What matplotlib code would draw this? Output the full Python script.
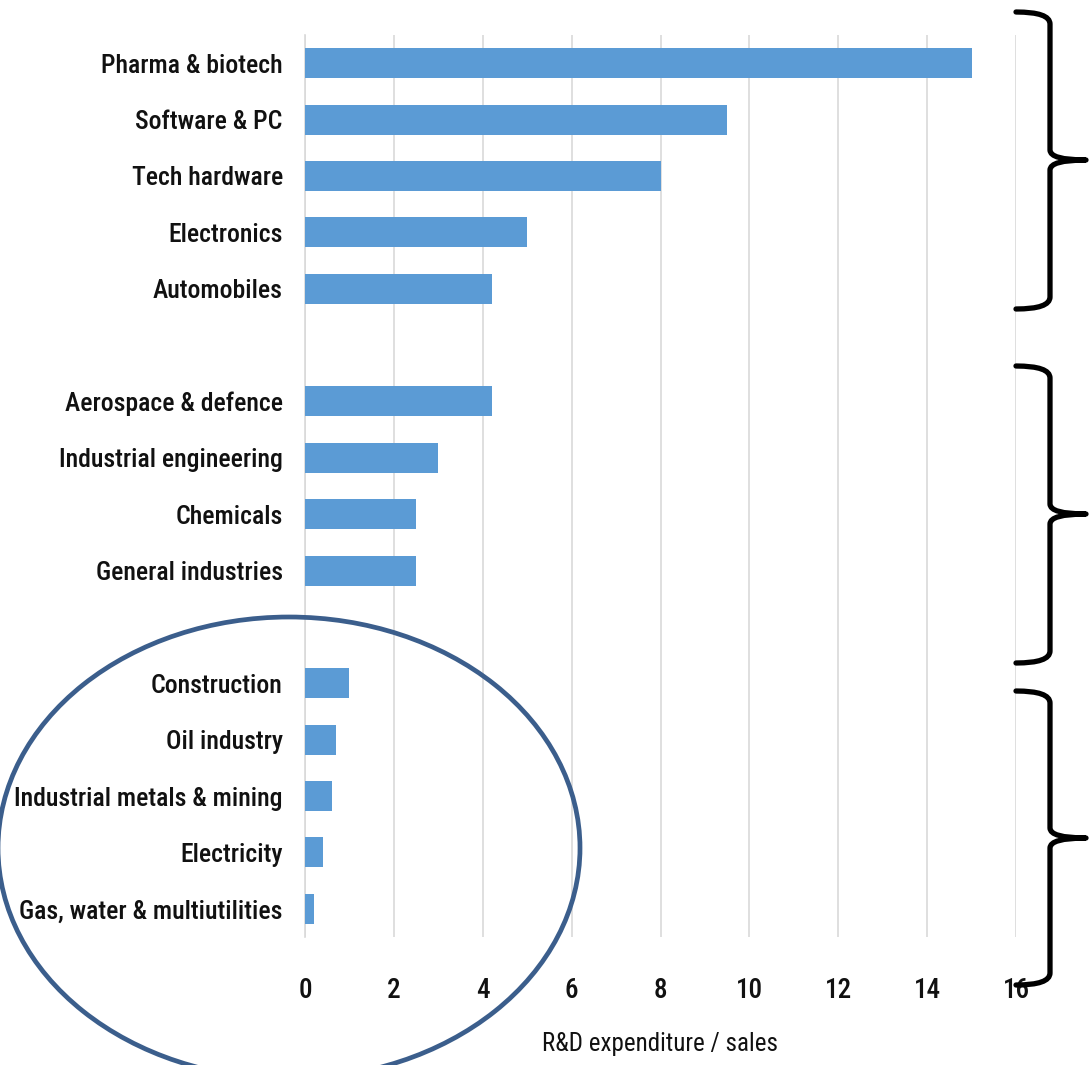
import matplotlib
matplotlib.use("Agg")
import matplotlib.pyplot as plt
from matplotlib.patches import Ellipse, PathPatch
from matplotlib.path import Path

# Sector R&D intensity, grouped (empty strings are spacer rows between groups)
sectors = [
    "Pharma & biotech", "Software & PC", "Tech hardware", "Electronics", "Automobiles",
    "",
    "Aerospace & defence", "Industrial engineering", "Chemicals", "General industries",
    "",
    "Construction", "Oil industry", "Industrial metals & mining", "Electricity",
    "Gas, water & multiutilities",
]
rd_to_sales = [
    15.0, 9.5, 8.0, 5.0, 4.2,
    None,
    4.2, 3.0, 2.5, 2.5,
    None,
    1.0, 0.7, 0.6, 0.4, 0.2,
]
x_ticks = [0, 2, 4, 6, 8, 10, 12, 14, 16]
x_label = "R&D expenditure / sales"

FONT = ["Roboto Condensed", "Liberation Sans Narrow", "DejaVu Sans"]
plt.rcParams["font.family"] = FONT
plt.rcParams["font.stretch"] = "condensed"
plt.rcParams["font.weight"] = "medium"

W, H = 1089, 1065
fig = plt.figure(figsize=(W / 100, H / 100), dpi=100)
ax = fig.add_axes([305 / W, 1 - 937 / H, 711 / W, 902 / H])

rows = list(range(len(sectors)))
for r, v in zip(rows, rd_to_sales):
    if v is not None:
        ax.barh(r, v, height=0.53, color="#5B9BD5", zorder=3)

ax.set_xlim(0, 16)
ax.set_ylim(len(sectors) - 0.5, -0.5)
ax.set_xticks(x_ticks)
ax.set_xticklabels([str(t) for t in x_ticks], fontsize=19.5)
ax.set_yticks(rows)
ax.set_yticklabels(sectors, fontsize=18.5)
ax.tick_params(axis="both", length=0, colors="#111111")
ax.tick_params(axis="y", pad=16)
ax.tick_params(axis="x", pad=29)
ax.grid(axis="x", color="#D9D9D9", linewidth=1.2, zorder=0)
for s in ["top", "right", "bottom"]:
    ax.spines[s].set_visible(False)
ax.spines["left"].set_color("#D9D9D9")
ax.spines["left"].set_linewidth(1.2)
ax.set_xlabel(x_label, fontsize=18, labelpad=20, color="#111111")


def fp(x, y):
    """Pixel position (from top-left) to figure fraction."""
    return (x / W, 1 - y / H)


# Curly braces marking the three groups
def brace(top, mid, bot, x0=1016, xs=1050, xt=1086):
    verts = [
        fp(x0, top), fp(xs, top), fp(xs, top + 12),
        fp(xs, mid - 10),
        fp(xs, mid), fp(xt, mid),
        fp(xs, mid), fp(xs, mid + 10),
        fp(xs, bot - 12),
        fp(xs, bot), fp(x0, bot),
    ]
    codes = [
        Path.MOVETO, Path.CURVE3, Path.CURVE3,
        Path.LINETO,
        Path.CURVE3, Path.CURVE3,
        Path.CURVE3, Path.CURVE3,
        Path.LINETO,
        Path.CURVE3, Path.CURVE3,
    ]
    p = PathPatch(Path(verts, codes), transform=fig.transFigure, fill=False,
                  edgecolor="black", linewidth=3.8, capstyle="round",
                  joinstyle="round", clip_on=False)
    fig.add_artist(p)


brace(12, 160, 309)
brace(366, 514, 663)
brace(691, 838, 985)

# Ellipse highlighting the low-intensity sectors
cx, cy = fp(289, 848)
fig.add_artist(Ellipse((cx, cy), 582 / W, 462 / H, transform=fig.transFigure,
                       fill=False, edgecolor="#3B5E8C", linewidth=3.4,
                       clip_on=False))

fig.savefig("out.png", dpi=100)
